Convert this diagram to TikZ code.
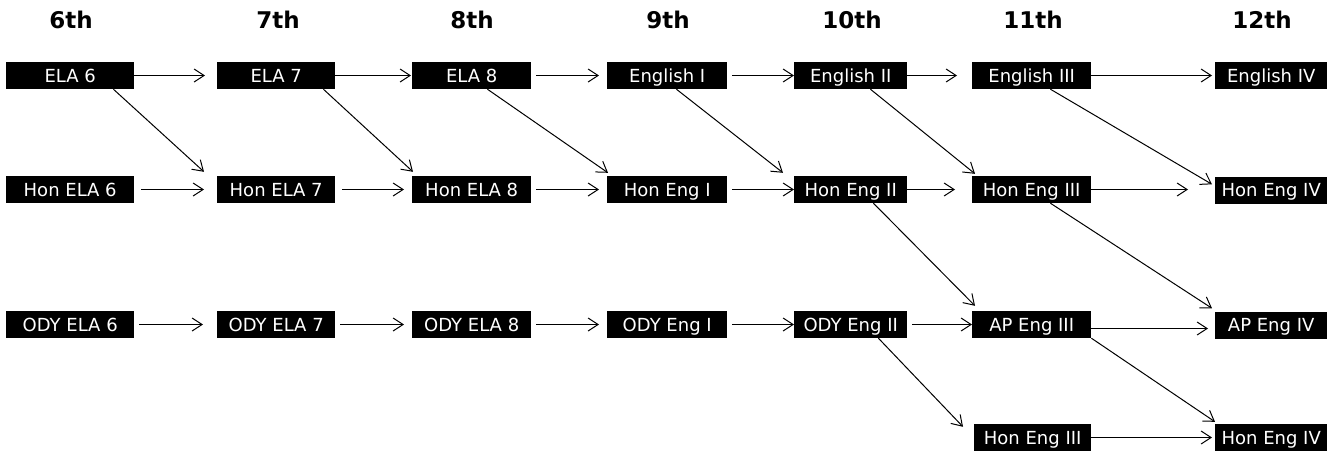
\documentclass[tikz,border=0pt]{standalone}
\usepackage{fontspec}
\setmainfont{DejaVu Sans}
\usetikzlibrary{positioning,arrows.meta}

\begin{document}
\begin{tikzpicture}[x=1pt, y=-1pt, >={Straight Barb[length=10pt,width=13pt]}]

    %
    % Styles for courses, grades and the arrows between them
    %
    \tikzstyle{course} = [fill=black, text=white, anchor=west, inner sep=0pt,
                          minimum height=27pt, text height=13pt, text depth=0pt,
                          font={\fontsize{18}{18}\selectfont}];
    \tikzstyle{grade} = [anchor=base, font={\fontsize{23}{27}\selectfont\bfseries}];
    \tikzstyle{flow} = [->, line width=1pt, shorten <=5pt, shorten >=8pt];
    \tikzstyle{jump} = [->, line width=1pt];

    \useasboundingbox (0,0) rectangle (1341,451);

    %
    % Grade headings
    %
    \node[grade, name=g6] at (71,28) {6th};
    \node[grade, name=g7] at (278,28) {7th};
    \node[grade, name=g8] at (472,28) {8th};
    \node[grade, name=g9] at (668,28) {9th};
    \node[grade, name=g10] at (852,28) {10th};
    \node[grade, name=g11] at (1033,28) {11th};
    \node[grade, name=g12] at (1262,28) {12th};

    %
    % Position courses
    %
    \node[course, name=ela6, minimum width=128pt] at (6,75.5) {ELA 6};
    \node[course, name=ela7, minimum width=118pt] at (217,75.5) {ELA 7};
    \node[course, name=ela8, minimum width=119pt] at (412,75.5) {ELA 8};
    \node[course, name=engI, minimum width=120pt] at (607,75.5) {English I};
    \node[course, name=engII, minimum width=113pt] at (794,75.5) {English II};
    \node[course, name=engIII, minimum width=119pt] at (972,75.5) {English III};
    \node[course, name=engIV, minimum width=112pt] at (1215,75.5) {English IV};

    \node[course, name=honela6, minimum width=128pt] at (6,189.5) {Hon ELA 6};
    \node[course, name=honela7, minimum width=118pt] at (217,189.5) {Hon ELA 7};
    \node[course, name=honela8, minimum width=119pt] at (412,189.5) {Hon ELA 8};
    \node[course, name=honengI, minimum width=120pt] at (607,189.5) {Hon Eng I};
    \node[course, name=honengII, minimum width=113pt] at (794,189.5) {Hon Eng II};
    \node[course, name=honengIII, minimum width=119pt] at (972,189.5) {Hon Eng III};
    \node[course, name=honengIV, minimum width=112pt] at (1215,190) {Hon Eng IV};

    \node[course, name=odyela6, minimum width=128pt] at (6,324.5) {ODY ELA 6};
    \node[course, name=odyela7, minimum width=118pt] at (217,324.5) {ODY ELA 7};
    \node[course, name=odyela8, minimum width=119pt] at (412,324.5) {ODY ELA 8};
    \node[course, name=odyengI, minimum width=120pt] at (607,324.5) {ODY Eng I};
    \node[course, name=odyengII, minimum width=113pt] at (794,324.5) {ODY Eng II};
    \node[course, name=apengIII, minimum width=119pt] at (972,324.5) {AP Eng III};
    \node[course, name=apengIV, minimum width=112pt] at (1215,325) {AP Eng IV};

    \node[course, name=honengIIIb, minimum width=117pt] at (974,437.5) {Hon Eng III};
    \node[course, name=honengIVb, minimum width=112pt] at (1215,437.5) {Hon Eng IV};

    %
    % Same track, one grade on
    %
    \draw[flow, shorten <=0pt, shorten >=12pt] (ela6) -- (ela7);
    \draw[flow, shorten <=0pt, shorten >=1pt] (ela7) -- (ela8);
    \draw[flow] (ela8) -- (engI);
    \draw[flow, shorten >=0pt] (engI) -- (engII);
    \draw[flow, shorten <=0pt, shorten >=15pt] (engII) -- (engIII);
    \draw[flow, shorten <=0pt, shorten >=3pt] (engIII) -- (engIV);

    \draw[flow, shorten <=7pt, shorten >=13pt] (honela6) -- (honela7);
    \draw[flow, shorten <=7pt] (honela7) -- (honela8);
    \draw[flow] (honela8) -- (honengI);
    \draw[flow, shorten >=0pt] (honengI) -- (honengII);
    \draw[flow, shorten <=0pt, shorten >=17pt] (honengII) -- (honengIII);
    \draw[flow, shorten <=0pt, shorten >=27pt] (honengIII.east) -- (honengIII.east -| honengIV.west);

    \draw[flow, shorten >=14pt] (odyela6) -- (odyela7);
    \draw[flow] (odyela7) -- (odyela8);
    \draw[flow] (odyela8) -- (odyengI);
    \draw[flow, shorten >=0pt] (odyengI) -- (odyengII);
    \draw[flow, shorten >=0pt] (odyengII) -- (apengIII);
    \draw[flow, shorten <=0pt, shorten >=7pt] ([yshift=-4pt]apengIII.east) -- ([yshift=-4pt]apengIII.east -| apengIV.west);

    \draw[flow, shorten <=0pt, shorten >=3pt] (honengIIIb) -- (honengIVb);

    %
    % Moving up to an honours or AP track
    %
    \draw[jump] ([xshift=-21pt]ela6.south east) -- ([xshift=-13pt,yshift=4pt]honela7.north west);
    \draw[jump] ([xshift=-12pt]ela7.south east) -- ([xshift=1pt,yshift=4pt]honela8.north west);
    \draw[jump] ([xshift=-44pt]ela8.south east) -- ([xshift=1pt,yshift=3pt]honengI.north west);
    \draw[jump] ([xshift=-51pt]engI.south east) -- ([xshift=-11pt,yshift=3pt]honengII.north west);
    \draw[jump] ([xshift=-37pt]engII.south east) -- ([xshift=3pt,yshift=2pt]honengIII.north west);
    \draw[jump] ([xshift=-41pt]engIII.south east) -- ([xshift=-3pt,yshift=-8pt]honengIV.north west);
    \draw[jump] ([xshift=-34pt]honengII.south east) -- ([xshift=3pt,yshift=5pt]apengIII.north west);
    \draw[jump] ([xshift=-41pt]honengIII.south east) -- ([xshift=-3pt,yshift=3pt]apengIV.north west);
    \draw[jump] ([xshift=-29pt]odyengII.south east) -- ([xshift=-11pt,yshift=-3pt]honengIIIb.north west);
    \draw[jump] (apengIII.south east) -- ([yshift=2pt]honengIVb.north west);
  \end{tikzpicture}
\end{document}
